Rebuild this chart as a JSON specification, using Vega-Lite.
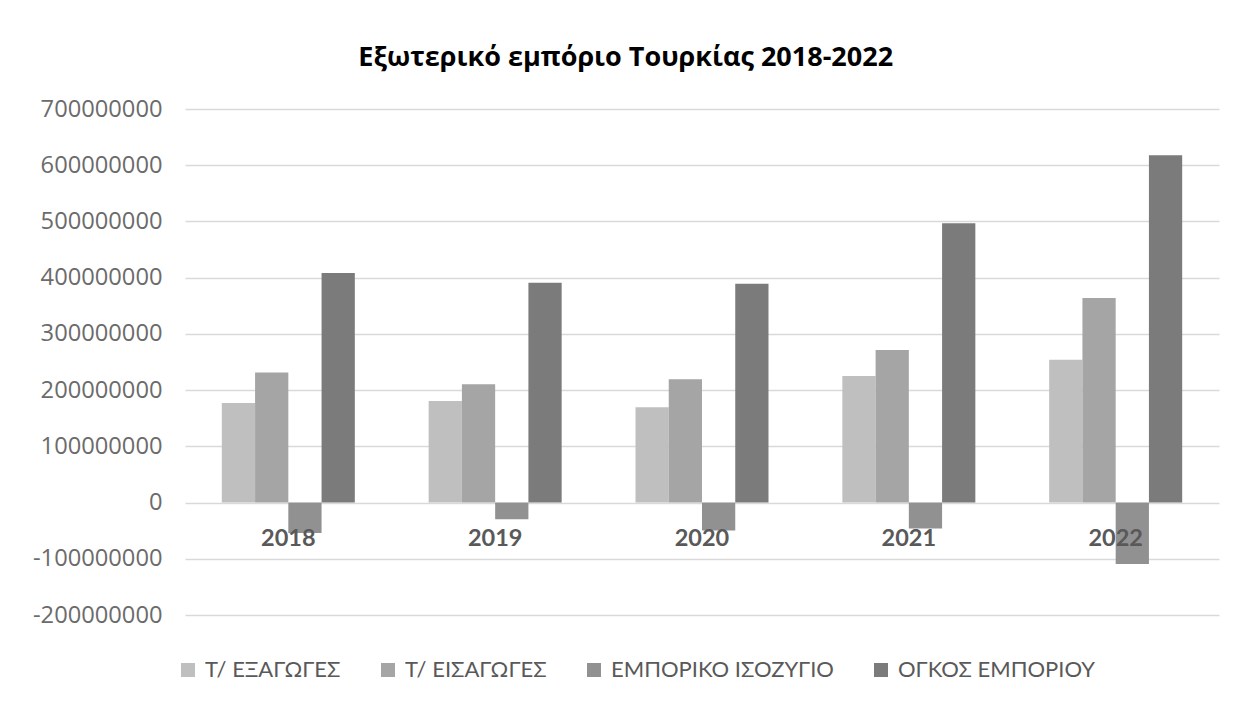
{
  "$schema": "https://vega.github.io/schema/vega-lite/v6.json",
  "width": 1034,
  "height": 506,
  "autosize": {"type": "none"},
  "padding": {"left": 185, "top": 109, "right": 25, "bottom": 90},
  "background": "white",
  "title": {
    "text": "Εξωτερικό εμπόριο Τουρκίας 2018-2022",
    "font": "Open Sans",
    "fontSize": 27,
    "fontWeight": "bold",
    "color": "#000000",
    "anchor": "middle",
    "frame": "bounds",
    "offset": 25
  },
  "data": {
    "values": [
      {"year": "2018", "series": "Τ/ ΕΞΑΓΩΓΕΣ", "value": 177200000},
      {"year": "2018", "series": "Τ/ ΕΙΣΑΓΩΓΕΣ", "value": 231200000},
      {"year": "2018", "series": "ΕΜΠΟΡΙΚΟ ΙΣΟΖΥΓΙΟ", "value": -54000000},
      {"year": "2018", "series": "ΟΓΚΟΣ ΕΜΠΟΡΙΟΥ", "value": 408400000},
      {"year": "2019", "series": "Τ/ ΕΞΑΓΩΓΕΣ", "value": 180800000},
      {"year": "2019", "series": "Τ/ ΕΙΣΑΓΩΓΕΣ", "value": 210300000},
      {"year": "2019", "series": "ΕΜΠΟΡΙΚΟ ΙΣΟΖΥΓΙΟ", "value": -29500000},
      {"year": "2019", "series": "ΟΓΚΟΣ ΕΜΠΟΡΙΟΥ", "value": 391100000},
      {"year": "2020", "series": "Τ/ ΕΞΑΓΩΓΕΣ", "value": 169600000},
      {"year": "2020", "series": "Τ/ ΕΙΣΑΓΩΓΕΣ", "value": 219500000},
      {"year": "2020", "series": "ΕΜΠΟΡΙΚΟ ΙΣΟΖΥΓΙΟ", "value": -49900000},
      {"year": "2020", "series": "ΟΓΚΟΣ ΕΜΠΟΡΙΟΥ", "value": 389100000},
      {"year": "2021", "series": "Τ/ ΕΞΑΓΩΓΕΣ", "value": 225200000},
      {"year": "2021", "series": "Τ/ ΕΙΣΑΓΩΓΕΣ", "value": 271400000},
      {"year": "2021", "series": "ΕΜΠΟΡΙΚΟ ΙΣΟΖΥΓΙΟ", "value": -46200000},
      {"year": "2021", "series": "ΟΓΚΟΣ ΕΜΠΟΡΙΟΥ", "value": 496600000},
      {"year": "2022", "series": "Τ/ ΕΞΑΓΩΓΕΣ", "value": 254200000},
      {"year": "2022", "series": "Τ/ ΕΙΣΑΓΩΓΕΣ", "value": 363700000},
      {"year": "2022", "series": "ΕΜΠΟΡΙΚΟ ΙΣΟΖΥΓΙΟ", "value": -109500000},
      {"year": "2022", "series": "ΟΓΚΟΣ ΕΜΠΟΡΙΟΥ", "value": 617900000}
    ]
  },
  "mark": {"type": "bar"},
  "encoding": {
    "x": {
      "field": "year",
      "type": "nominal",
      "title": null,
      "scale": {"paddingInner": 0.357, "paddingOuter": 0.178},
      "axis": {
        "orient": "bottom",
        "offset": -112,
        "domain": false,
        "ticks": false,
        "labelAngle": 0,
        "labelPadding": 23,
        "labelFont": "Lato",
        "labelFontSize": 23.5,
        "labelFontWeight": "bold",
        "labelColor": "#595959",
        "zindex": 1
      }
    },
    "xOffset": {
      "field": "series",
      "type": "nominal",
      "sort": ["Τ/ ΕΞΑΓΩΓΕΣ", "Τ/ ΕΙΣΑΓΩΓΕΣ", "ΕΜΠΟΡΙΚΟ ΙΣΟΖΥΓΙΟ", "ΟΓΚΟΣ ΕΜΠΟΡΙΟΥ"],
      "scale": {"paddingInner": 0, "paddingOuter": 0}
    },
    "y": {
      "field": "value",
      "type": "quantitative",
      "title": null,
      "scale": {"domain": [-200000000, 700000000], "nice": false, "zero": false},
      "axis": {
        "values": [-200000000, -100000000, 0, 100000000, 200000000, 300000000, 400000000, 500000000, 600000000, 700000000],
        "labelExpr": "'' + datum.value",
        "domain": false,
        "ticks": false,
        "labelPadding": 23,
        "labelFont": "Open Sans",
        "labelFontSize": 23.7,
        "labelColor": "#6B6B6B",
        "gridColor": "#D9D9D9",
        "gridWidth": 1.5
      }
    },
    "color": {
      "field": "series",
      "type": "nominal",
      "scale": {
        "domain": ["Τ/ ΕΞΑΓΩΓΕΣ", "Τ/ ΕΙΣΑΓΩΓΕΣ", "ΕΜΠΟΡΙΚΟ ΙΣΟΖΥΓΙΟ", "ΟΓΚΟΣ ΕΜΠΟΡΙΟΥ"],
        "range": ["#BFBFBF", "#A5A5A5", "#919191", "#7B7B7B"]
      },
      "legend": {
        "title": null,
        "orient": "none",
        "direction": "horizontal",
        "legendX": -8,
        "legendY": 550,
        "symbolType": "square",
        "symbolSize": 196,
        "symbolStrokeWidth": 0,
        "labelFont": "Lato",
        "labelFontSize": 22,
        "labelColor": "#595959",
        "labelOffset": 6,
        "columnPadding": 36,
        "labelLimit": 400
      }
    }
  },
  "config": {
    "view": {"stroke": null}
  }
}
